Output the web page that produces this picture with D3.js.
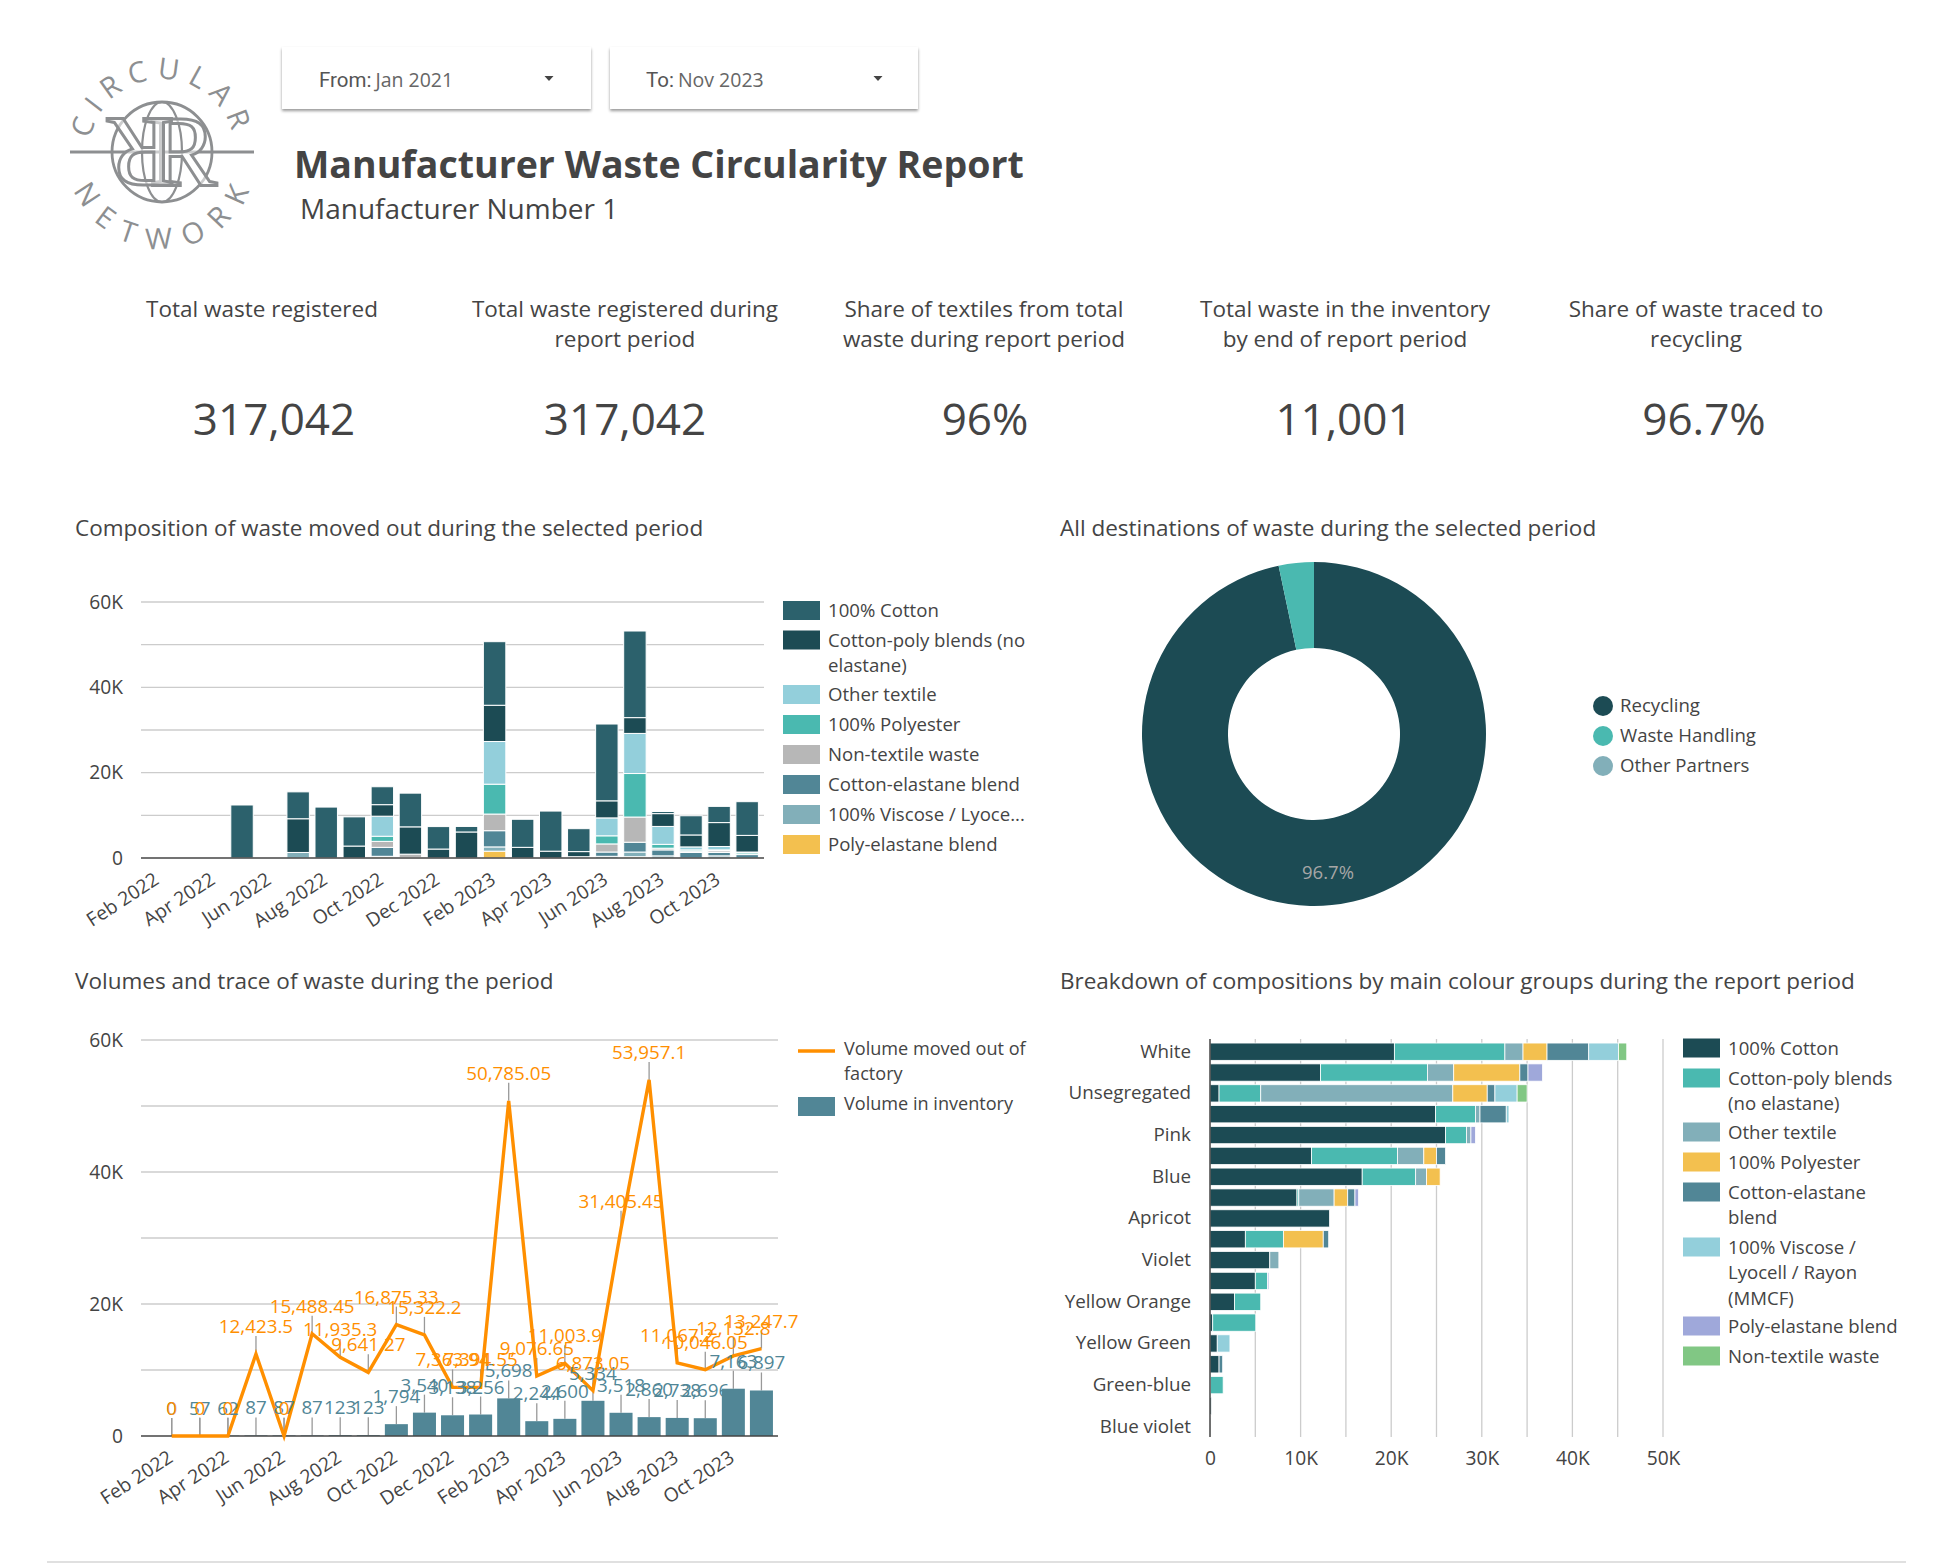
<!DOCTYPE html>
<html>
<head>
<meta charset="utf-8">
<script src="https://cdn.jsdelivr.net/npm/d3@7"></script>
<style>
  body { margin: 0; background: #fff; }
  text { font-family: "Open Sans", sans-serif; fill: #444; }
  .axis text { font-size: 19.2px; fill: #444; }
  .axis path, .axis line { stroke: none; }
</style>
</head>
<body>
<svg id="page" width="1951" height="1563"></svg>
<script>
var months = ['Feb 2022','Mar 2022','Apr 2022','May 2022','Jun 2022','Jul 2022','Aug 2022','Sep 2022','Oct 2022','Nov 2022','Dec 2022',
              'Jan 2023','Feb 2023','Mar 2023','Apr 2023','May 2023','Jun 2023','Jul 2023','Aug 2023','Sep 2023','Oct 2023','Nov 2023'];

// composition of waste moved out, per month
var compCotton         = [0,0,0,12423,0,6300,11935,6841,4200,7900,5263,1294,14900,6576,9400,5373,18000,20300,500,4500,3800,7900];
var compCottonPoly     = [0,0,0,0,0,7900,0,2800,2700,6400,2100,6100,8500,2500,1600,1200,4000,3700,3000,2800,5600,3900];
var compOther          = [0,0,0,0,0,0,0,0,4700,0,0,0,10000,0,0,0,4200,9400,4200,700,800,200];
var compPolyester      = [0,0,0,0,0,0,0,0,1200,0,0,0,7000,0,0,0,1900,10200,900,300,200,400];
var compNonTextile     = [0,0,0,0,0,0,0,0,1400,800,0,0,3900,0,0,0,1900,5900,400,300,400,0];
var compCottonElastane = [0,0,0,0,0,0,0,0,2100,0,0,0,3800,0,0,0,1000,2300,1400,1300,800,800];
var compViscose        = [0,0,0,0,0,1300,0,0,100,0,0,0,1000,0,0,300,400,1100,500,0,500,0];
var compPolyElastane   = [0,0,0,0,0,0,0,0,300,100,0,0,1600,0,0,0,0,300,0,0,0,0];

// volumes and inventory
var volumeOut = [0,0,0,12423.5,0,15488.45,11935.3,9641.27,16875.33,15322.2,7363.94,7394.55,50785.05,9076.65,11003.9,6873.05,31405.45,53957.1,11067.2,10046.05,12132.8,13247.7];
var inventory = [0,57,62,87,87,87,123,123,1794,3540,3138,3256,5698,2244,2600,5334,3518,2860,2738,2696,7163,6897];

// destinations
var destNames  = ['Recycling','Waste Handling','Other Partners'];
var destValues = [96.7,3.3,0];

// colour groups; only every second row has a visible label
var rowLabels = ['White','','Unsegregated','','Pink','','Blue','','Apricot','','Violet','','Yellow Orange','','Yellow Green','','Green-blue','','Blue violet'];
var barCotton         = [20350,12200,1000,24900,26000,11200,16800,9600,13200,3900,6600,5000,2700,300,800,1000,50,170,50];
var barCottonPoly     = [12200,11800,4600,4400,2300,9500,5900,200,0,4200,0,1350,2900,4750,0,0,1400,0,0];
var barOther          = [2000,2900,21200,500,500,2900,1200,3900,0,0,1000,0,0,0,0,0,0,0,0];
var barPolyester      = [2650,7300,3800,0,0,1400,1500,1500,0,4400,0,0,0,0,0,0,0,0,0];
var barCottonElastane = [4600,900,850,2900,0,1000,0,800,0,600,0,0,0,0,0,400,0,0,0];
var barViscose        = [3300,0,2450,300,0,0,0,0,0,0,0,0,0,0,1400,0,0,0,0];
var barPolyElastane   = [0,1600,0,0,500,0,0,400,0,0,0,150,0,0,0,0,0,0,0];
var barNonTextile     = [900,0,1100,0,0,0,0,0,0,0,0,0,0,0,0,0,0,0,0];

var kpiTitles = [['Total waste registered'],['Total waste registered during','report period'],['Share of textiles from total','waste during report period'],['Total waste in the inventory','by end of report period'],['Share of waste traced to','recycling']];
var kpiValues = ['317,042','317,042','96%','11,001','96.7%'];

var svg = d3.select('#page');
var kFormat = function(d){ return d === 0 ? '0' : (d/1000) + 'K'; };
var everyOther = months.filter(function(d,i){ return i % 2 === 0; });

function title(x, y, txt){
    svg.append('text').attr('x',x).attr('y',y).attr('font-size',22.5).text(txt);
}

function swatchLegend(x, items){
    items.forEach(function(it){
        svg.append('rect').attr('x',x).attr('y',it.y-9.5).attr('width',37).attr('height',19).attr('fill',it.color);
        it.lines.forEach(function(line,i){
            svg.append('text').attr('x',x+45).attr('y',it.y+6.5+i*25.5).attr('font-size',18.6).text(line);
        });
    });
}

function hGrid(y, x0, x1, ticks){
    svg.append('g').selectAll('line').data(ticks).join('line')
        .attr('x1',x0).attr('x2',x1)
        .attr('y1',function(d){return y(d);}).attr('y2',function(d){return y(d);})
        .attr('stroke','#ccc').attr('stroke-width',1.3);
}

function monthAxes(x, y, x0, x1){
    svg.append('g').attr('class','axis').attr('transform','translate('+x0+',0)')
        .call(d3.axisLeft(y).tickValues([0,20000,40000,60000]).tickSize(0).tickPadding(18).tickFormat(kFormat));
    var gx = svg.append('g').attr('class','axis').attr('transform','translate(0,'+y(0)+')')
        .call(d3.axisBottom(x).tickValues(everyOther).tickSize(0));
    gx.selectAll('text').attr('text-anchor','end').attr('dx','-0.6em').attr('dy','1em').attr('transform','rotate(-33)');
    svg.append('line').attr('x1',x0).attr('x2',x1).attr('y1',y(0)).attr('y2',y(0)).attr('stroke','#444').attr('stroke-width',1.3);
}

/* ---------- header ---------- */
var defs = svg.append('defs');
var shadow = defs.append('filter').attr('id','cardShadow').attr('x','-5%').attr('y','-10%').attr('width','110%').attr('height','130%');
shadow.append('feDropShadow').attr('dx',0).attr('dy',2).attr('stdDeviation',1.8).attr('flood-color','#000').attr('flood-opacity',0.4);

[{x:282,w:309,label:'From:',val:'Jan 2021',tx:319,ax:549},{x:610,w:308,label:'To:',val:'Nov 2023',tx:646,ax:878}].forEach(function(d){
    svg.append('rect').attr('x',d.x).attr('y',47).attr('width',d.w).attr('height',62).attr('fill','#fff').attr('filter','url(#cardShadow)');
    var t = svg.append('text').attr('x',d.tx).attr('y',87);
    t.append('tspan').attr('font-size',20.5).style('font-family','Roboto').style('fill','#555').text(d.label);
    t.append('tspan').attr('font-size',19.5).attr('dx',4).style('fill','#666').text(d.val);
    svg.append('path').attr('d','M'+(d.ax-4.5)+',76h9l-4.5,5z').attr('fill','#444');
});

svg.append('text').attr('x',294).attr('y',178).attr('font-size',37.5).attr('font-weight',700).text('Manufacturer Waste Circularity Report');
svg.append('text').attr('x',300).attr('y',219).attr('font-size',28).text('Manufacturer Number 1');

// logo
var logo = svg.append('g').attr('transform','translate(162,152)');
var logoGrey = '#8d8f91';
defs.append('path').attr('id','logoTop').attr('d','M-69,24A73,73 0 1 1 69,24');
defs.append('path').attr('id','logoBottom').attr('d','M-94,-12A95,95 0 1 0 94,-12');
[{id:'logoTop',txt:'CIRCULAR',ls:8.5,off:'50%'},{id:'logoBottom',txt:'NETWORK',ls:14,off:'52%'}].forEach(function(d){
    logo.append('text').attr('font-size',29).attr('text-anchor','middle').attr('letter-spacing',d.ls).style('fill',logoGrey)
      .append('textPath').attr('href','#'+d.id).attr('startOffset',d.off).text(d.txt);
});
logo.append('line').attr('x1',-92).attr('x2',92).attr('stroke',logoGrey).attr('stroke-width',3);
logo.append('circle').attr('r',50).attr('fill','none').attr('stroke',logoGrey).attr('stroke-width',2.8);
logo.append('ellipse').attr('rx',20).attr('ry',50).attr('fill','none').attr('stroke',logoGrey).attr('stroke-width',2.2);
[0,180].forEach(function(rot){
    logo.append('text').attr('transform','rotate('+rot+') translate(-13,34)').attr('font-size',102)
        .style('font-family','"Liberation Serif"').style('fill','#fff').style('fill-opacity',0.55)
        .style('stroke',logoGrey).style('stroke-width',3).text('R');
});

/* ---------- KPI row ---------- */
var kpiTitleX = [262,625,984,1345,1696];
var kpiValueX = [274,625,985,1344,1704];
kpiTitles.forEach(function(lines,k){
    lines.forEach(function(line,i){
        svg.append('text').attr('x',kpiTitleX[k]).attr('y',317+i*30).attr('text-anchor','middle').attr('font-size',22.5).text(line);
    });
    svg.append('text').attr('x',kpiValueX[k]).attr('y',435).attr('text-anchor','middle').attr('font-size',44).text(kpiValues[k]);
});

/* ---------- composition stacked bars ---------- */
title(75,536,'Composition of waste moved out during the selected period');

var compKeys = ['polyElastane','viscose','cottonElastane','nonTextile','polyester','other','cottonPoly','cotton'];
var compColors = {cotton:'#2c616c',cottonPoly:'#1c4b54',other:'#93cfdb',polyester:'#4ab9b0',nonTextile:'#b7b7b7',cottonElastane:'#518696',viscose:'#82afb9',polyElastane:'#f3c04f'};
var compRows = months.map(function(m,i){
    return {month:m,cotton:compCotton[i],cottonPoly:compCottonPoly[i],other:compOther[i],polyester:compPolyester[i],
            nonTextile:compNonTextile[i],cottonElastane:compCottonElastane[i],viscose:compViscose[i],polyElastane:compPolyElastane[i]};
});
var x1 = d3.scaleBand().domain(months).range([141,764]).padding(0.2);
var y1 = d3.scaleLinear().domain([0,60000]).range([858,602]);
hGrid(y1,141,764,d3.range(10000,60001,10000));

svg.append('g').selectAll('g').data(d3.stack().keys(compKeys)(compRows)).join('g')
    .attr('fill',function(s){return compColors[s.key];})
  .selectAll('rect').data(function(s){return s.filter(function(d){return d[1]>d[0];});}).join('rect')
    .attr('x',function(d){return x1(d.data.month);})
    .attr('width',x1.bandwidth())
    .attr('y',function(d){return y1(d[1]);})
    .attr('height',function(d){return y1(d[0])-y1(d[1]);})
    .attr('stroke','#fff').attr('stroke-width',1);
monthAxes(x1,y1,141,764);

swatchLegend(783,[
    {y:610.5,color:compColors.cotton,lines:['100% Cotton']},
    {y:640,color:compColors.cottonPoly,lines:['Cotton-poly blends (no','elastane)']},
    {y:694.5,color:compColors.other,lines:['Other textile']},
    {y:724.5,color:compColors.polyester,lines:['100% Polyester']},
    {y:754.5,color:compColors.nonTextile,lines:['Non-textile waste']},
    {y:784.5,color:compColors.cottonElastane,lines:['Cotton-elastane blend']},
    {y:814.5,color:compColors.viscose,lines:['100% Viscose / Lyoce...']},
    {y:844.5,color:compColors.polyElastane,lines:['Poly-elastane blend']}
]);

/* ---------- destinations donut ---------- */
title(1060,536,'All destinations of waste during the selected period');
var destColors = ['#1c4b54','#4ab9b0','#82afb9'];
var pie = d3.pie().sort(null);
var arc = d3.arc().innerRadius(86).outerRadius(172);
var donut = svg.append('g').attr('transform','translate(1314,734)');
donut.selectAll('path').data(pie(destValues)).join('path')
    .attr('d',arc).attr('fill',function(d,i){return destColors[i];});
svg.append('text').attr('x',1328).attr('y',879).attr('text-anchor','middle').attr('font-size',18.5).style('fill','#a6a6a6').text('96.7%');
destNames.forEach(function(n,i){
    svg.append('circle').attr('cx',1603).attr('cy',706+i*30).attr('r',10).attr('fill',destColors[i]);
    svg.append('text').attr('x',1625-5).attr('y',712+i*30).attr('font-size',18.6).text(n);
});

/* ---------- volumes line + bars ---------- */
title(75,989,'Volumes and trace of waste during the period');
var step2 = (778-141)/22.5;
var x2 = d3.scaleBand().domain(months).range([141+step2/2,778]).padding(0.18);
var y2 = d3.scaleLinear().domain([0,60000]).range([1436,1040]);
var cx2 = function(m){ return x2(m)+x2.bandwidth()/2; };
hGrid(y2,141,778,d3.range(10000,60001,10000));

var invColor = '#518696', lineColor = '#ff8f00';
var numFmt = d3.format(',');
function leaders(values){
    svg.append('g').selectAll('line').data(values).join('line')
        .attr('x1',function(d,i){return cx2(months[i]);}).attr('x2',function(d,i){return cx2(months[i]);})
        .attr('y1',function(d){return y2(d);}).attr('y2',function(d){return y2(d)-18;})
        .attr('stroke','#999').attr('stroke-width',1.3);
}
leaders(inventory);
leaders(volumeOut);
svg.append('g').selectAll('rect').data(inventory).join('rect')
    .attr('x',function(d,i){return x2(months[i]);}).attr('width',x2.bandwidth())
    .attr('y',function(d){return y2(d);}).attr('height',function(d){return y2(0)-y2(d);})
    .attr('fill',invColor);
monthAxes(x2,y2,141,778);
svg.append('path').datum(volumeOut)
    .attr('d',d3.line().x(function(d,i){return cx2(months[i]);}).y(function(d){return y2(d);}))
    .attr('fill','none').attr('stroke',lineColor).attr('stroke-width',3.4);
function valueLabels(values,color){
    svg.append('g').selectAll('text').data(values).join('text')
        .attr('x',function(d,i){return cx2(months[i]);}).attr('y',function(d){return y2(d)-21;})
        .attr('text-anchor','middle').attr('font-size',18.8).style('fill',color)
        .text(function(d){return numFmt(d);});
}
valueLabels(inventory,invColor);
valueLabels(volumeOut,lineColor);

svg.append('line').attr('x1',798).attr('x2',835).attr('y1',1051).attr('y2',1051).attr('stroke',lineColor).attr('stroke-width',3.4);
svg.append('text').attr('x',844).attr('y',1058).attr('font-size',18.1).attr('dy',-3).text('Volume moved out of');
svg.append('text').attr('x',844).attr('y',1083.5).attr('font-size',18.1).attr('dy',-4).text('factory');
svg.append('rect').attr('x',798).attr('y',1097).attr('width',37).attr('height',19).attr('fill',invColor);
svg.append('text').attr('x',844).attr('y',1113).attr('font-size',18.1).attr('dy',-3).text('Volume in inventory');

/* ---------- colour groups horizontal bars ---------- */
title(1060,989,'Breakdown of compositions by main colour groups during the report period');
var barKeys = ['cotton','cottonPoly','other','polyester','cottonElastane','viscose','polyElastane','nonTextile'];
var barColors = {cotton:'#1c4b54',cottonPoly:'#4ab9b0',other:'#82afb9',polyester:'#f3c04f',cottonElastane:'#518696',viscose:'#93cfdb',polyElastane:'#9fa8da',nonTextile:'#81c784'};
var barRows = rowLabels.map(function(l,i){
    return {row:i,cotton:barCotton[i],cottonPoly:barCottonPoly[i],other:barOther[i],polyester:barPolyester[i],
            cottonElastane:barCottonElastane[i],viscose:barViscose[i],polyElastane:barPolyElastane[i],nonTextile:barNonTextile[i]};
});
var x3 = d3.scaleLinear().domain([0,50000]).range([1210,1663]);
var y3 = d3.scaleBand().domain(d3.range(rowLabels.length)).range([1039.5,1439]).padding(0.17);

svg.append('g').selectAll('line').data(d3.range(5000,50001,5000)).join('line')
    .attr('x1',function(d){return x3(d);}).attr('x2',function(d){return x3(d);})
    .attr('y1',1039).attr('y2',1437).attr('stroke','#ccc').attr('stroke-width',1.3);

svg.append('g').selectAll('g').data(d3.stack().keys(barKeys)(barRows)).join('g')
    .attr('fill',function(s){return barColors[s.key];})
  .selectAll('rect').data(function(s){return s.filter(function(d){return d[1]>d[0];});}).join('rect')
    .attr('x',function(d){return x3(d[0]);})
    .attr('width',function(d){return x3(d[1])-x3(d[0]);})
    .attr('y',function(d){return y3(d.data.row);})
    .attr('height',y3.bandwidth())
    .attr('stroke','#fff').attr('stroke-width',0.8);

svg.append('g').attr('class','axis rows').attr('transform','translate(1210,0)')
    .call(d3.axisLeft(y3).tickSize(0).tickPadding(19).tickFormat(function(i){return rowLabels[i];}))
  .selectAll('text').style('font-size','18.8px');
svg.append('g').attr('class','axis').attr('transform','translate(0,1437)')
    .call(d3.axisBottom(x3).tickValues([0,10000,20000,30000,40000,50000]).tickSize(0).tickPadding(14).tickFormat(kFormat));
svg.append('line').attr('x1',1210).attr('x2',1210).attr('y1',1039).attr('y2',1437).attr('stroke','#444').attr('stroke-width',1.5);

swatchLegend(1683,[
    {y:1048,color:barColors.cotton,lines:['100% Cotton']},
    {y:1078,color:barColors.cottonPoly,lines:['Cotton-poly blends','(no elastane)']},
    {y:1132,color:barColors.other,lines:['Other textile']},
    {y:1162,color:barColors.polyester,lines:['100% Polyester']},
    {y:1192,color:barColors.cottonElastane,lines:['Cotton-elastane','blend']},
    {y:1247,color:barColors.viscose,lines:['100% Viscose /','Lyocell / Rayon','(MMCF)']},
    {y:1326,color:barColors.polyElastane,lines:['Poly-elastane blend']},
    {y:1356,color:barColors.nonTextile,lines:['Non-textile waste']}
]);

svg.append('rect').attr('x',47).attr('y',1561).attr('width',1859).attr('height',2).attr('fill','#e0e0e0');
</script>
</body>
</html>
